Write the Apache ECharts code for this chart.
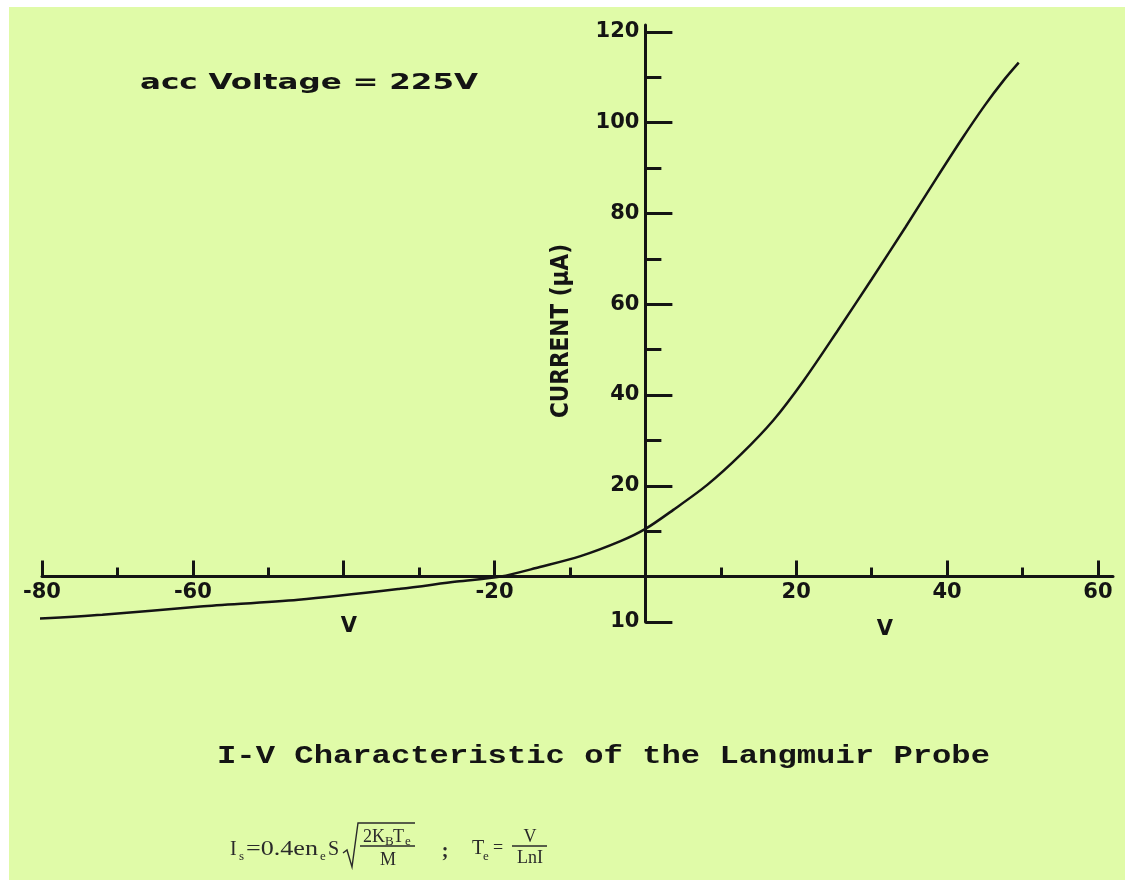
<!DOCTYPE html>
<html>
<head>
<meta charset="utf-8">
<title>I-V Characteristic of the Langmuir Probe</title>
<script src="https://cdn.jsdelivr.net/npm/echarts@6/dist/echarts.min.js"></script>
<style>
html, body { margin: 0; padding: 0; background: #fff; }
#chart { width: 1125px; height: 880px; }
</style>
</head>
<body>
<div id="chart"></div>
<script>
const voltage = [-81, -72, -59, -46, -32.5, -25, -19.2, -14, -8.6, -3.3, 0, 3.7, 8.2, 12.6, 17, 21, 25.5, 30, 34.5, 38.5, 42, 45, 47.5, 49.5]
const current = [-9.3, -8.4, -6.6, -5.1, -2.7, -1.1, 0, 2.1, 4.5, 7.8, 10.5, 14.7, 20.2, 26.8, 34.5, 43.2, 54.2, 65.5, 77, 87.5, 96.5, 103.8, 109.3, 113.2]

// ticks and labels as drawn on the paper (-40 and 0 have no label)
const xMajorTicks = [-80, -60, -40, -20, 20, 40, 60]
const xMinorTicks = [-70, -50, -30, -10, 10, 30, 50]
const xLabels = [-80, -60, -20, 20, 40, 60]
const yMajorTicks = [-10, 20, 40, 60, 80, 100, 120]
const yMinorTicks = [10, 30, 50, 70, 90, 110]
const yLabels = [-10, 20, 40, 60, 80, 100, 120]

const X_MIN = -80
const X_MAX = 62
const Y_MIN = -10
const Y_MAX = 121.5

const INK = '#141414'
const PAPER = '#e0fba8'
const AXIS_FONT = '"DejaVu Sans", sans-serif'

const GRID = { left: 42, right: 12, top: 25, bottom: 258 }
const gridW = 1125 - GRID.left - GRID.right
const gridH = 880 - GRID.top - GRID.bottom
// axes cross at (0, 0): shift them in from the grid edges
const yAxisOffset = -((0 - X_MIN) / (X_MAX - X_MIN)) * gridW
const xAxisOffset = -((0 - Y_MIN) / (Y_MAX - Y_MIN)) * gridH

const measureCtx = document.createElement('canvas').getContext('2d')
const fitScale = (text, font, width) => {
  measureCtx.font = font
  return width / measureCtx.measureText(text).width
}

// plain text element, optionally stretched to a given width
const label = (text, x, y, font, opts = {}) => ({
  type: 'text',
  x,
  y,
  silent: true,
  scaleX: opts.width ? fitScale(text, font, opts.width) : 1,
  style: {
    text,
    font,
    fill: opts.fill || INK,
    align: opts.align || 'left',
    verticalAlign: 'middle',
  },
})
const stroke = (points, width) => ({
  type: 'polyline',
  silent: true,
  shape: { points },
  style: { stroke: '#2a2a2a', lineWidth: width || 1.4, fill: null },
})

const F_NOTE = 'bold 22px "DejaVu Sans"'
const F_TITLE = 'bold 25px "Liberation Mono"'
const F_V = 'bold 21px "DejaVu Sans"'
const F_EQ = '20px "Liberation Serif"'
const F_EQ_SMALL = '18px "Liberation Serif"'
const F_SUB = '13px "Liberation Serif"'
const EQ = '#2a2a2a'

const tickStyle = { color: INK, width: 3 }
const labelStyle = {
  color: INK,
  fontFamily: AXIS_FONT,
  fontWeight: 'bold',
  fontSize: 21,
}

const chart = echarts.init(document.getElementById('chart'))

chart.setOption({
  animation: false,
  backgroundColor: '#fff',
  grid: { ...GRID, outerBoundsMode: 'none' },
  xAxis: [
    {
      type: 'value',
      position: 'bottom',
      offset: xAxisOffset,
      min: X_MIN,
      max: X_MAX,
      axisLine: { onZero: false, lineStyle: tickStyle },
      axisTick: { inside: true, length: 16, customValues: xMajorTicks, lineStyle: tickStyle },
      axisLabel: { ...labelStyle, customValues: xLabels, margin: 5 },
      splitLine: { show: false },
    },
    {
      // minor ticks only
      type: 'value',
      position: 'bottom',
      offset: xAxisOffset,
      min: X_MIN,
      max: X_MAX,
      axisLine: { show: false, onZero: false },
      axisTick: { inside: true, length: 9, customValues: xMinorTicks, lineStyle: tickStyle },
      axisLabel: { show: false },
      splitLine: { show: false },
    },
  ],
  yAxis: [
    {
      type: 'value',
      position: 'left',
      offset: yAxisOffset,
      min: Y_MIN,
      max: Y_MAX,
      name: 'CURRENT (μA)',
      nameLocation: 'middle',
      nameRotate: 90,
      nameGap: 72,
      nameTextStyle: {
        color: INK,
        fontFamily: '"DejaVu Sans Condensed", "DejaVu Sans", sans-serif',
        fontWeight: 'bold',
        fontSize: 24,
        padding: [0, 15, 0, 0],
      },
      axisLine: { onZero: false, lineStyle: tickStyle },
      axisTick: { inside: true, length: 27, customValues: yMajorTicks, lineStyle: tickStyle },
      axisLabel: {
        ...labelStyle,
        customValues: yLabels,
        margin: 6,
        // the scan prints the bottom tick as "10"
        formatter: (v) => (v === -10 ? '10' : String(v)),
      },
      splitLine: { show: false },
    },
    {
      type: 'value',
      position: 'left',
      offset: yAxisOffset,
      min: Y_MIN,
      max: Y_MAX,
      axisLine: { show: false, onZero: false },
      axisTick: { inside: true, length: 16, customValues: yMinorTicks, lineStyle: tickStyle },
      axisLabel: { show: false },
      splitLine: { show: false },
    },
  ],
  graphic: [
    {
      type: 'rect',
      z: -10,
      silent: true,
      shape: { x: 9, y: 7, width: 1116, height: 873 },
      style: { fill: PAPER },
    },
    label('acc Voltage = 225V', 140, 83, F_NOTE, { width: 338 }),
    label('V', 349, 627, F_V, { align: 'center' }),
    label('V', 885, 630, F_V, { align: 'center' }),
    label('I-V Characteristic of the Langmuir Probe', 217, 757, F_TITLE, { width: 773 }),
    // I_s = 0.4 e n_e S sqrt(2 K_B T_e / M)
    label('I', 230, 850, F_EQ, { fill: EQ }),
    label('s', 239, 857, F_SUB, { fill: EQ }),
    label('=0.4en', 246, 850, F_EQ, { fill: EQ, width: 72 }),
    label('e', 320, 857, F_SUB, { fill: EQ }),
    label('S', 328, 850, F_EQ, { fill: EQ }),
    stroke([[343, 853], [347, 850], [352, 867], [358, 823], [415, 823]]),
    label('2K', 363, 837, F_EQ_SMALL, { fill: EQ }),
    label('B', 385, 842, F_SUB, { fill: EQ }),
    label('T', 393, 837, F_EQ_SMALL, { fill: EQ }),
    label('e', 405, 842, F_SUB, { fill: EQ }),
    stroke([[360, 846], [415, 846]]),
    label('M', 388, 860, F_EQ_SMALL, { fill: EQ, align: 'center' }),
    label(';', 445, 852, 'bold 20px "Liberation Serif"', { fill: EQ, align: 'center' }),
    // T_e = V / LnI
    label('T', 472, 849, F_EQ, { fill: EQ }),
    label('e', 483, 857, F_SUB, { fill: EQ }),
    label('=', 493, 848, F_EQ_SMALL, { fill: EQ }),
    stroke([[512, 846], [547, 846]]),
    label('V', 530, 837, F_EQ_SMALL, { fill: EQ, align: 'center' }),
    label('LnI', 530, 858, F_EQ_SMALL, { fill: EQ, align: 'center' }),
  ],
  series: [
    {
      type: 'line',
      xAxisIndex: 0,
      yAxisIndex: 0,
      data: voltage.map((v, i) => [v, current[i]]),
      smooth: 0.3,
      symbol: 'none',
      clip: false,
      lineStyle: { color: INK, width: 2.5 },
    },
  ],
})
</script>
</body>
</html>
